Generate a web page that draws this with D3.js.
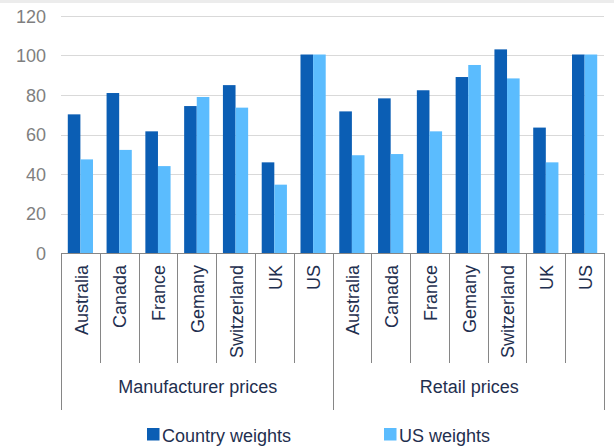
<!DOCTYPE html>
<html>
<head>
<meta charset="utf-8">
<script src="https://cdn.jsdelivr.net/npm/d3@7"></script>
<style>
  html, body { margin: 0; padding: 0; background: #fff; }
  svg { display: block; font-family: "Liberation Sans", Arial, sans-serif; }
</style>
</head>
<body>
<svg id="chart" width="614" height="448"></svg>
<script>
// Price index by country, under own-country and US consumption weights
const groups = ["Manufacturer prices", "Retail prices"];
const countries = ["Australia", "Canada", "France", "Gemany", "Switzerland", "UK", "US"];
const seriesNames = ["Country weights", "US weights"];

const manufacturerCountry = [70.2, 81.0, 61.6, 74.4, 85.0, 45.9, 100.5];
const manufacturerUS      = [47.4, 52.2, 44.0, 79.0, 73.6, 34.6, 100.5];
const retailCountry       = [71.7, 78.3, 82.4, 89.1, 103.1, 63.5, 100.5];
const retailUS            = [49.5, 50.1, 61.6, 95.2, 88.4, 45.9, 100.5];

const yTicks = [0, 20, 40, 60, 80, 100, 120];
const colors = ["#0B5EB4", "#5BBCFE"];

// Flatten into one row per category slot
const rows = [];
groups.forEach((g, gi) => {
  const a = gi === 0 ? manufacturerCountry : retailCountry;
  const b = gi === 0 ? manufacturerUS : retailUS;
  countries.forEach((c, ci) => {
    rows.push({ key: gi + "-" + ci, group: g, country: c, values: [a[ci], b[ci]] });
  });
});

const svg = d3.select("#chart");
const plotLeft = 61, plotRight = 604, plotTop = 16, plotBase = 253;

const x0 = d3.scaleBand().domain(rows.map(r => r.key)).range([plotLeft, plotRight])
  .paddingInner(0.35).paddingOuter(0.175);
const x1 = d3.scaleBand().domain([0, 1]).range([0, x0.bandwidth()]);
const y = d3.scaleLinear().domain([0, 120]).range([plotBase, plotTop]);

// faint strip at the top edge
svg.append("rect").attr("x", 0).attr("y", 0).attr("width", 614).attr("height", 3).attr("fill", "#ececec");

// gridlines
svg.append("g").selectAll("line").data(yTicks.filter(t => t > 0)).join("line")
  .attr("x1", plotLeft).attr("x2", plotRight)
  .attr("y1", d => Math.round(y(d)) + 0.5).attr("y2", d => Math.round(y(d)) + 0.5)
  .attr("stroke", "#d9d9d9").attr("stroke-width", 1.2);

// y axis labels
const yAxis = d3.axisLeft(y).tickValues(yTicks).tickSize(0).tickPadding(0);
const yg = svg.append("g").attr("transform", "translate(46,0)").call(yAxis);
yg.select(".domain").remove();
yg.selectAll("text").attr("fill", "#7f7f7f").style("font-size", "18px")
  .style("font-family", "'Liberation Sans', Arial, sans-serif").attr("dy", "0.36em");

// bars
const cat = svg.append("g").selectAll("g").data(rows).join("g")
  .attr("transform", d => `translate(${x0(d.key)},0)`);
cat.selectAll("rect").data(d => d.values.map((v, i) => ({ v, i }))).join("rect")
  .attr("x", d => x1(d.i))
  .attr("width", x1.bandwidth())
  .attr("y", d => y(d.v))
  .attr("height", d => plotBase - y(d.v))
  .attr("fill", d => colors[d.i]);

// category axis: baseline, dividers, labels
const step = x0.step();
const axisG = svg.append("g");
axisG.append("line").attr("x1", plotLeft).attr("x2", plotRight).attr("y1", plotBase + 0.5).attr("y2", plotBase + 0.5)
  .attr("stroke", "#868686").attr("stroke-width", 1.2);

const bounds = d3.range(rows.length + 1).map(i => plotLeft + i * step);
axisG.selectAll("line.div").data(bounds).join("line").attr("class", "div")
  .attr("x1", d => Math.round(d) + 0.5).attr("x2", d => Math.round(d) + 0.5)
  .attr("y1", plotBase)
  .attr("y2", (d, i) => (i % countries.length === 0) ? 410 : 363)
  .attr("stroke", "#868686").attr("stroke-width", 1);

axisG.selectAll("text.cat").data(rows).join("text").attr("class", "cat")
  .attr("transform", d => `translate(${x0(d.key) + x0.bandwidth() / 2 + 1},265) rotate(-90)`)
  .attr("text-anchor", "end").attr("dy", "0.35em")
  .attr("fill", "#1f2f4f").style("font-size", "18px")
  .text(d => d.country);

axisG.selectAll("text.grp").data(groups).join("text").attr("class", "grp")
  .attr("x", (d, i) => plotLeft + (i + 0.5) * countries.length * step + 1)
  .attr("y", 393)
  .attr("text-anchor", "middle")
  .attr("fill", "#1f2f4f").style("font-size", "18px")
  .text(d => d);

// legend
const legendX = [147, 384];
const lg = svg.append("g").selectAll("g").data(seriesNames).join("g")
  .attr("transform", (d, i) => `translate(${legendX[i]},428)`);
lg.append("rect").attr("width", 12.5).attr("height", 12.5).attr("fill", (d, i) => colors[i]);
lg.append("text").attr("x", 15).attr("y", 13.5).attr("fill", "#1f2f4f").style("font-size", "18px").text(d => d);
</script>
</body>
</html>
